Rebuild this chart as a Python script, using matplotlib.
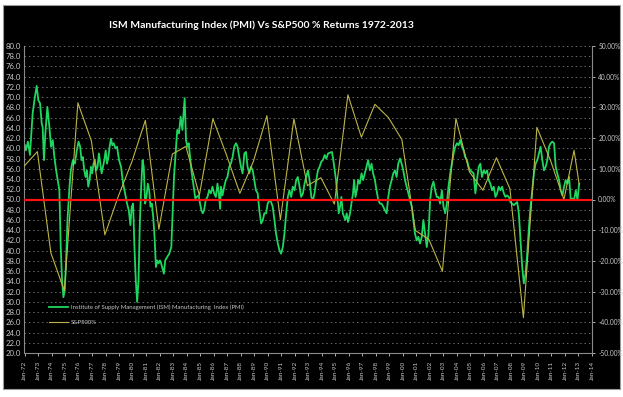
"""
plot.py

ISM Manufacturing Index (PMI) against S&P500 annual % returns,
1972-2013, drawn in the style of a black-background Excel chart.

Output
------
out.png  (623 x 397 px)
"""

import matplotlib

matplotlib.use("Agg")

import matplotlib.pyplot as plt
import numpy as np
from matplotlib.patches import Rectangle
from matplotlib.ticker import FuncFormatter


TITLE = "ISM Manufacturing Index (PMI) Vs S&P500 % Returns 1972-2013"
PMI_LABEL = "Institute of Supply Management (ISM) Manufacturing  Index (PMI)"
SPX_LABEL = "S&P500%"

# PMI readings (decimal year, index level)
pmi_years = [
    1972.00, 1972.07, 1972.22, 1972.37, 1972.57, 1972.74, 1972.87, 1972.99,
    1973.12, 1973.24, 1973.31, 1973.41, 1973.51, 1973.66, 1973.81, 1973.93,
    1974.06, 1974.18, 1974.31, 1974.43, 1974.55, 1974.65, 1974.75, 1974.85,
    1974.95, 1975.05, 1975.15, 1975.30, 1975.40, 1975.55, 1975.70, 1975.84,
    1975.97, 1976.09, 1976.19, 1976.29, 1976.39, 1976.49, 1976.59, 1976.69,
    1976.79, 1976.89, 1976.98, 1977.08, 1977.18, 1977.28, 1977.38, 1977.48,
    1977.58, 1977.68, 1977.78, 1977.88, 1977.98, 1978.08, 1978.18, 1978.27,
    1978.37, 1978.47, 1978.57, 1978.70, 1978.82, 1978.97, 1979.12, 1979.27,
    1979.42, 1979.56, 1979.69, 1979.81, 1979.91, 1980.01, 1980.11, 1980.21,
    1980.31, 1980.41, 1980.51, 1980.61, 1980.71, 1980.80, 1980.90, 1981.00,
    1981.10, 1981.20, 1981.30, 1981.40, 1981.50, 1981.60, 1981.70, 1981.80,
    1981.90, 1982.00, 1982.09, 1982.19, 1982.29, 1982.39, 1982.54, 1982.69,
    1982.84,
    1983.04, 1983.16, 1983.28, 1983.41, 1983.53, 1983.66, 1983.73, 1983.83,
    1983.93, 1984.03, 1984.13, 1984.23, 1984.33, 1984.43, 1984.53, 1984.62,
    1984.72, 1984.87, 1984.97, 1985.07, 1985.17, 1985.27, 1985.39, 1985.52,
    1985.64, 1985.77, 1985.89, 1986.01, 1986.14, 1986.26, 1986.36, 1986.46,
    1986.51, 1986.63, 1986.76, 1986.88, 1987.00, 1987.13, 1987.25, 1987.38,
    1987.50, 1987.63, 1987.75, 1987.87, 1988.00, 1988.12, 1988.25, 1988.37,
    1988.49, 1988.62, 1988.74, 1988.87, 1988.99, 1989.11, 1989.24, 1989.36,
    1989.49, 1989.61, 1989.73, 1989.86, 1989.98, 1990.11, 1990.23, 1990.35,
    1990.48, 1990.60, 1990.73, 1990.85, 1990.97, 1991.10, 1991.22, 1991.35,
    1991.47, 1991.59, 1991.72, 1991.84, 1991.97, 1992.09, 1992.21, 1992.34,
    1992.46, 1992.59, 1992.71, 1992.83, 1992.96, 1993.08, 1993.21, 1993.33,
    1993.45, 1993.58, 1993.70, 1993.83, 1993.95, 1994.07, 1994.20, 1994.32,
    1994.45,
    1994.74, 1994.84, 1994.94, 1995.04, 1995.14, 1995.24, 1995.34, 1995.44,
    1995.54, 1995.64, 1995.73, 1995.83, 1995.93, 1996.08, 1996.18, 1996.30,
    1996.38, 1996.48, 1996.58, 1996.68, 1996.80, 1996.93, 1997.05, 1997.17,
    1997.30, 1997.42, 1997.55, 1997.67, 1997.79, 1997.92, 1998.04, 1998.17,
    1998.29, 1998.41, 1998.54, 1998.66, 1998.79, 1998.91, 1999.03, 1999.16,
    1999.28, 1999.40, 1999.53, 1999.65, 1999.78, 1999.90, 2000.02, 2000.15,
    2000.27, 2000.40, 2000.52, 2000.65, 2000.77, 2000.89, 2001.02, 2001.14,
    2001.26, 2001.39, 2001.51, 2001.64, 2001.76, 2001.89, 2002.01, 2002.13,
    2002.26, 2002.38, 2002.50, 2002.63, 2002.75, 2002.88, 2003.00, 2003.13,
    2003.25, 2003.37, 2003.50, 2003.62, 2003.75, 2003.87, 2004.00, 2004.12,
    2004.24, 2004.37, 2004.49, 2004.61, 2004.74, 2004.86, 2004.98,
    2005.23, 2005.36, 2005.48, 2005.61, 2005.73, 2005.85, 2005.98, 2006.10,
    2006.23, 2006.35, 2006.47, 2006.60, 2006.72, 2006.85, 2006.97, 2007.09,
    2007.22, 2007.34, 2007.47, 2007.59, 2007.71, 2007.84, 2007.96, 2008.09,
    2008.21, 2008.33, 2008.46, 2008.58, 2008.71, 2008.83, 2008.95, 2009.08,
    2009.20, 2009.33, 2009.45, 2009.57, 2009.70, 2009.82, 2009.95, 2010.07,
    2010.19, 2010.32, 2010.44, 2010.57, 2010.69, 2010.81, 2010.94, 2011.06,
    2011.19, 2011.31, 2011.43, 2011.56, 2011.68, 2011.81, 2011.93, 2012.05,
    2012.18, 2012.30, 2012.43, 2012.55, 2012.67, 2012.80, 2012.92, 2013.05,
]

pmi_values = [
    60.6, 59.6, 61.3, 58.7, 66.8, 70.1, 72.2, 69.4,
    68.8, 64.9, 64.2, 57.7, 62.9, 68.1, 64.2, 60.3,
    61.6, 58.3, 55.7, 53.8, 51.8, 40.7, 34.2, 30.9,
    32.3, 38.1, 46.0, 52.5, 55.7, 57.7, 57.0, 59.6,
    61.3, 60.3, 57.7, 58.3, 55.7, 54.4, 55.7, 52.5,
    53.8, 56.4, 55.1, 57.0, 57.7, 55.7, 56.4, 59.0,
    57.0, 55.1, 56.4, 57.7, 59.6, 57.0, 58.3, 60.3,
    61.9, 60.6, 61.0, 60.0, 60.3, 57.7, 56.4, 53.1,
    51.2, 49.2, 47.9, 45.0, 48.6, 49.2, 40.7, 34.2,
    30.0, 34.2, 45.3, 52.5, 57.7, 56.4, 49.2, 50.5,
    53.1, 51.8, 48.6, 49.2, 46.6, 42.7, 36.8, 38.1,
    37.5, 38.1, 37.5, 36.5, 35.5, 38.1, 38.8, 39.4,
    40.7,
    54.4, 59.0, 63.6, 62.9, 66.2, 63.6, 66.2, 69.8,
    61.6, 60.3, 61.0, 58.3, 55.7, 53.8, 51.8, 50.2,
    50.5, 50.8, 49.2, 47.9, 47.3, 47.9, 49.9, 50.5,
    51.8, 51.2, 52.5, 51.2, 50.5, 53.1, 51.2, 48.2,
    52.5, 50.8, 52.5, 53.8, 54.4, 56.4, 57.0, 58.3,
    60.3, 61.0, 60.3, 58.3, 56.4, 55.1, 59.0, 59.3,
    56.4, 55.1, 56.4, 55.7, 53.8, 51.8, 51.2, 47.9,
    45.3, 45.9, 47.3, 47.3, 49.2, 49.9, 49.5, 48.6,
    46.0, 43.3, 41.4, 40.1, 39.4, 40.7, 43.3, 47.3,
    50.5, 51.8, 50.5, 52.5, 51.8, 53.8, 54.4, 52.5,
    50.5, 51.2, 53.1, 54.4, 55.7, 53.8, 50.5, 49.9,
    51.2, 53.8, 55.7, 56.4, 57.4, 57.7, 58.7, 58.0,
    59.0,
    59.3, 57.7, 55.7, 53.8, 50.5, 47.3, 48.6, 50.5,
    47.3, 46.6, 46.0, 47.3, 45.6, 47.3, 49.2, 51.2,
    53.8, 50.5, 51.8, 53.8, 53.1, 55.1, 53.8, 55.1,
    56.4, 57.7, 55.7, 57.0, 55.1, 53.8, 51.8, 49.9,
    49.2, 49.2, 48.6, 47.9, 47.3, 50.5, 52.5, 53.8,
    55.1, 55.7, 54.4, 57.0, 58.0, 57.0, 55.7, 53.8,
    52.5, 51.2, 49.9, 48.6, 46.0, 43.3, 42.0, 42.7,
    41.4, 42.7, 46.0, 43.3, 40.7, 43.3, 49.9, 52.5,
    53.5, 51.8, 50.5, 50.5, 49.2, 51.8, 48.6, 47.3,
    49.2, 52.5, 55.1, 57.0, 59.0, 60.3, 61.0, 60.6,
    61.6, 60.3, 59.6, 58.3, 57.7, 56.4, 55.7,
    55.1, 51.2, 53.8, 56.4, 57.0, 54.4, 55.7, 55.1,
    55.7, 53.8, 53.1, 51.8, 52.5, 50.5, 51.2, 52.5,
    51.8, 52.5, 51.2, 50.5, 50.8, 50.5, 49.5, 49.2,
    48.9, 49.2, 49.5, 47.3, 42.0, 36.8, 33.6, 35.5,
    39.4, 44.6, 48.6, 51.8, 55.1, 57.0, 57.7, 59.0,
    60.3, 57.7, 55.7, 56.4, 57.7, 60.3, 61.0, 61.3,
    61.0, 56.4, 55.1, 53.8, 51.8, 50.8, 52.5, 53.8,
    53.1, 54.4, 49.9, 50.2, 49.9, 51.8, 49.9, 53.1,
]

# S&P500 yearly % return, plotted at each year end
spx_years = [
    1971.93, 1972.92, 1973.92, 1974.92, 1975.92, 1976.92, 1977.92, 1978.92,
    1979.92, 1980.92, 1981.92, 1982.92, 1983.92, 1984.92, 1985.92, 1986.92,
    1987.92, 1988.92, 1989.92, 1990.92, 1991.92, 1992.92, 1993.92, 1994.92,
    1995.92, 1996.92, 1997.92, 1998.92, 1999.92, 2000.92, 2001.92, 2002.92,
    2003.92, 2004.92, 2005.92, 2006.92, 2007.92, 2008.92, 2009.92, 2010.92,
    2011.92, 2012.67, 2013.05,
]

spx_returns = [
    10.8, 15.6, -17.4, -29.7, 31.5, 19.1, -11.5, 1.1,
    12.3, 25.8, -9.7, 14.8, 17.3, 1.4, 26.3, 14.6,
    2.0, 12.4, 27.3, -6.6, 26.3, 4.5, 7.1, -1.5,
    34.1, 20.3, 31.0, 26.7, 19.5, -10.1, -13.0, -23.4,
    26.4, 9.0, 3.0, 13.6, 3.5, -38.5, 23.5, 12.8,
    0.0, 16.0, 5.0,
]

tick_years = list(range(1972, 2015))
tick_labels = [f"Jan-{year % 100:02d}" for year in tick_years]

FONT = ["Lato", "DejaVu Sans"]
LABEL_GREY = "#c8c8c8"


def style_axes(axis, axis_right):
    """Black Excel look: dotted horizontal grid, grey spines, small labels."""
    axis.set_facecolor("black")
    axis_right.patch.set_visible(False)

    axis.spines["top"].set_visible(False)
    axis_right.spines["top"].set_visible(False)

    for spine in ("left", "bottom"):
        axis.spines[spine].set_color("#8a8a8a")
        axis.spines[spine].set_linewidth(0.8)
    axis.spines["right"].set_visible(False)

    axis_right.spines["right"].set_color("#8a8a8a")
    axis_right.spines["right"].set_linewidth(0.8)
    axis_right.spines["left"].set_visible(False)
    axis_right.spines["bottom"].set_visible(False)

    axis.yaxis.grid(True, color="#6a6a6a", linestyle=(0, (1.5, 3)),
                    linewidth=0.7)
    axis.set_axisbelow(True)


def main():
    fig = plt.figure(figsize=(6.23, 3.97), dpi=100, facecolor="white")

    # black chart area with a thin grey frame, behind the axes
    fig.patches.append(
        Rectangle(
            (3 / 623, 8 / 397), 617 / 623, 384 / 397,
            transform=fig.transFigure, facecolor="black",
            edgecolor="#9a9a9a", linewidth=0.8, zorder=-10,
        )
    )

    axis = fig.add_axes([24 / 623, 44 / 397, 568 / 623, 307 / 397])
    axis_right = axis.twinx()
    style_axes(axis, axis_right)

    pmi_line, = axis.plot(pmi_years, pmi_values, color="#1ed760",
                          linewidth=1.3, label=PMI_LABEL)

    spx_line, = axis_right.plot(spx_years, spx_returns, color="#bdb545",
                                linewidth=0.8, label=SPX_LABEL)
    axis_right.axhline(0, color="#ff1010", linewidth=1.6, zorder=5)

    axis.set_xlim(1971.93, 2014.0)
    axis.set_ylim(20, 80)
    axis_right.set_ylim(-50, 50)

    axis.set_yticks(np.arange(20, 80.1, 2))
    axis.yaxis.set_major_formatter(FuncFormatter(lambda v, _: f"{v:.1f}"))
    axis_right.set_yticks(np.arange(-50, 50.1, 10))
    axis_right.yaxis.set_major_formatter(
        FuncFormatter(lambda v, _: f"{v:.2f}%")
    )

    axis.set_xticks(tick_years)
    axis.set_xticklabels(tick_labels, rotation=90)

    axis.tick_params(axis="y", colors=LABEL_GREY, labelsize=5.6, length=0,
                     pad=2)
    axis.tick_params(axis="x", colors=LABEL_GREY, labelsize=4.6, length=2.5,
                     width=0.6, pad=3)
    axis_right.tick_params(axis="y", colors=LABEL_GREY, labelsize=4.8,
                           length=2.5, width=0.6, pad=2)

    for label in axis.get_xticklabels() + axis.get_yticklabels() + \
            axis_right.get_yticklabels():
        label.set_fontfamily(FONT)

    legend = axis_right.legend(
        handles=[pmi_line, spx_line],
        loc="lower left",
        bbox_to_anchor=(0.035, 0.075),
        frameon=False,
        handlelength=3.2,
        handletextpad=0.4,
        labelspacing=1.6,
        prop={"family": FONT, "size": 4.3},
    )
    for text in legend.get_texts():
        text.set_color(LABEL_GREY)
    legend.set_zorder(10)

    fig.text(
        261 / 623, 1 - 25 / 397, TITLE,
        ha="center", va="center", color="white",
        fontsize=7.5, fontweight="bold", family=FONT,
    )

    fig.savefig("out.png", dpi=100, facecolor=fig.get_facecolor())
    plt.close(fig)


if __name__ == "__main__":
    main()
